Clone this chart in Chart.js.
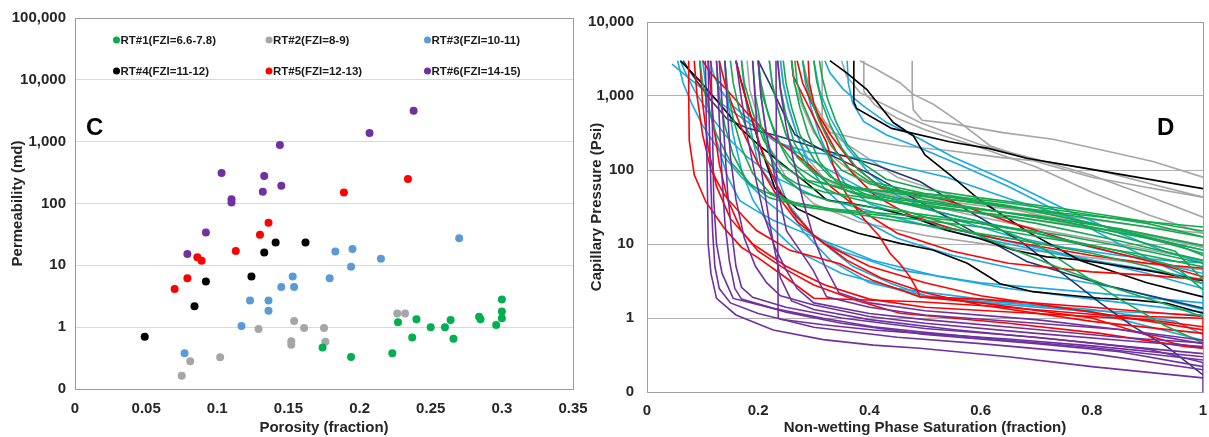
<!DOCTYPE html>
<html>
<head>
<meta charset="utf-8">
<script src="https://cdn.jsdelivr.net/npm/chart.js@4.4.1/dist/chart.umd.min.js"></script>
<style>
    html, body { margin: 0; padding: 0; background: #fff; }
    #wrap { position: relative; width: 1209px; height: 437px; overflow: hidden; }
    #permChart { position: absolute; left: 0; top: 0; }
    #pcChart { position: absolute; left: 578px; top: 0; }
</style>
</head>
<body>
<div id="wrap">
    <canvas id="permChart" width="600" height="437"></canvas>
    <canvas id="pcChart" width="631" height="437"></canvas>
</div>
<script>
// ---- Panel C: porosity vs permeability ----
const rtNames = ['RT#1(FZI=6.6-7.8)', 'RT#2(FZI=8-9)', 'RT#3(FZI=10-11)',
                 'RT#4(FZI=11-12)', 'RT#5(FZI=12-13)', 'RT#6(FZI=14-15)'];

const rt1Poro = [0.174, 0.194, 0.223, 0.227, 0.237, 0.240, 0.250, 0.260, 0.264, 0.266, 0.284, 0.285, 0.296, 0.300, 0.300, 0.300];
const rt1Perm = [0.47, 0.33, 0.38, 1.2, 0.68, 1.34, 1.0, 1.0, 1.3, 0.65, 1.48, 1.34, 1.08, 2.8, 1.8, 1.39];
const rt2Poro = [0.075, 0.081, 0.102, 0.129, 0.152, 0.152, 0.154, 0.161, 0.175, 0.176, 0.2265, 0.232];
const rt2Perm = [0.164, 0.28, 0.325, 0.93, 0.59, 0.52, 1.26, 0.97, 0.97, 0.58, 1.67, 1.67];
const rt3Poro = [0.077, 0.117, 0.123, 0.136, 0.136, 0.145, 0.154, 0.153, 0.179, 0.183, 0.194, 0.195, 0.215, 0.270];
const rt3Perm = [0.38, 1.04, 2.69, 2.69, 1.85, 4.47, 4.47, 6.6, 6.2, 16.8, 9.5, 18.4, 12.8, 27.3];
const rt4Poro = [0.049, 0.084, 0.092, 0.124, 0.133, 0.141, 0.162];
const rt4Perm = [0.70, 2.17, 5.5, 6.6, 16.2, 23.5, 23.5];
const rt5Poro = [0.070, 0.079, 0.086, 0.089, 0.113, 0.130, 0.136, 0.189, 0.234];
const rt5Perm = [4.14, 6.2, 13.5, 11.9, 17.1, 31.3, 49, 150, 249];
const rt6Poro = [0.079, 0.092, 0.103, 0.110, 0.110, 0.132, 0.133, 0.144, 0.145, 0.207, 0.238];
const rt6Perm = [15.3, 34, 311, 117, 104, 155, 279, 883, 194, 1380, 3170];

const porosityTicks = [0, 0.05, 0.1, 0.15, 0.2, 0.25, 0.3, 0.35];
const porosityTickLabels = ['0', '0.05', '0.1', '0.15', '0.2', '0.25', '0.3', '0.35'];
const permTicks = [0.1, 1, 10, 100, 1000, 10000, 100000];
const permTickLabels = ['0', '1', '10', '100', '1,000', '10,000', '100,000'];

// ---- Panel D: capillary pressure curves, [Sw, Pc] ----
const satTicks = [0, 0.2, 0.4, 0.6, 0.8, 1];
const satTickLabels = ['0', '0.2', '0.4', '0.6', '0.8', '1'];
const pcTicks = [0.1, 1, 10, 100, 1000, 10000];
const pcTickLabels = ['0', '1', '10', '100', '1,000', '10,000'];

const rt1Curves = [
    [[0.15,3000],[0.155,1500],[0.165,700],[0.18,350],[0.2,180],[0.23,100],[0.27,65],[0.32,50],[0.419,40],[0.55,30],[0.7,19],[0.85,11],[1,6]],
    [[0.17,3000],[0.175,1500],[0.19,600],[0.21,250],[0.24,120],[0.28,75],[0.35,58],[0.419,53],[0.539,45],[0.659,35],[0.779,26],[0.899,19],[1,12.5]],
    [[0.2,3000],[0.205,1200],[0.22,500],[0.24,220],[0.27,110],[0.31,70],[0.37,50],[0.45,40],[0.55,32],[0.7,24],[0.85,16],[1,9.5]],
    [[0.22,3000],[0.225,1500],[0.235,700],[0.25,300],[0.27,150],[0.3,90],[0.35,62],[0.45,48],[0.6,36],[0.75,26],[0.9,20],[1,17]],
    [[0.245,3000],[0.25,1500],[0.26,700],[0.275,300],[0.3,140],[0.33,80],[0.38,55],[0.45,42],[0.6,30],[0.75,20],[0.9,12],[1,7.5]],
    [[0.266,3000],[0.27,1500],[0.28,800],[0.3,350],[0.32,180],[0.35,100],[0.4,65],[0.5,45],[0.6,35],[0.75,25],[0.9,17],[1,12.4]],
    [[0.28,3000],[0.285,1800],[0.295,900],[0.31,450],[0.33,220],[0.36,110],[0.4,70],[0.5,48],[0.65,33],[0.8,19],[0.95,10],[1,7]],
    [[0.3,3000],[0.305,1600],[0.315,800],[0.33,400],[0.35,200],[0.38,100],[0.42,60],[0.5,40],[0.6,30],[0.75,20],[0.9,12],[1,8.3]],
    [[0.14,3000],[0.145,1200],[0.155,500],[0.17,200],[0.19,90],[0.22,50],[0.27,35],[0.35,28],[0.45,23],[0.6,17],[0.75,11],[0.9,7],[1,4.9]],
    [[0.125,3000],[0.13,1000],[0.14,400],[0.155,160],[0.18,70],[0.22,42],[0.28,32],[0.38,25],[0.5,18],[0.65,12],[0.8,7.5],[0.9,5],[1,2.9]],
    [[0.19,3000],[0.195,1000],[0.205,400],[0.22,160],[0.245,80],[0.28,50],[0.33,38],[0.42,30],[0.55,22],[0.7,14],[0.85,8],[0.95,5],[1,2.4]],
    [[0.26,3000],[0.265,1500],[0.275,700],[0.29,300],[0.31,130],[0.34,70],[0.4,45],[0.5,30],[0.6,20],[0.7,10],[0.78,4],[0.85,1.8],[0.93,0.8],[1,0.46]],
    [[0.31,3000],[0.315,1800],[0.325,900],[0.34,450],[0.36,220],[0.39,120],[0.43,75],[0.5,55],[0.6,42],[0.75,30],[0.9,20],[1,15]],
    [[0.095,3000],[0.1,1500],[0.11,700],[0.125,300],[0.15,130],[0.19,60],[0.25,38],[0.33,30],[0.45,25],[0.6,19],[0.75,13],[0.9,8],[1,5.5]],
    [[0.235,3000],[0.24,1300],[0.25,550],[0.265,230],[0.29,110],[0.33,62],[0.4,42],[0.5,32],[0.65,24],[0.8,16],[0.95,8],[1,3.3]],
    [[0.2,3000],[0.205,1500],[0.215,700],[0.23,300],[0.255,130],[0.29,70],[0.35,45],[0.45,30],[0.55,18],[0.65,9],[0.75,4.5],[0.85,2.4],[0.95,1.4],[1,1.04]]
];

const rt2Curves = [
    [[0.477,3000],[0.477,1000],[0.479,650],[0.495,470],[0.55,420],[0.64,320],[0.73,260],[0.82,185],[0.91,130],[1,80]],
    [[0.383,3000],[0.413,2280],[0.455,1510],[0.479,1050],[0.515,773],[0.563,438],[0.617,213],[0.7,130],[0.8,80],[0.9,58],[1,43]],
    [[0.35,3000],[0.359,1860],[0.383,1110],[0.443,668],[0.491,438],[0.55,300],[0.6,220],[0.7,140],[0.8,85],[0.9,45],[1,23]],
    [[0.315,3000],[0.315,490],[0.33,320],[0.383,262],[0.455,213],[0.545,182],[0.635,148],[0.725,127],[0.815,98],[0.905,65],[1,43]],
    [[0.39,3000],[0.39,1150],[0.41,750],[0.45,500],[0.5,350],[0.6,200],[0.7,110],[0.8,50],[0.9,25],[1,14]],
    [[0.28,3000],[0.29,1500],[0.3,800],[0.32,450],[0.35,250],[0.4,140],[0.45,80],[0.55,45],[0.7,25],[0.85,16],[1,9.6]],
    [[0.22,3000],[0.225,1500],[0.235,700],[0.25,300],[0.27,150],[0.3,90],[0.35,60],[0.45,45],[0.6,33],[0.75,24],[0.9,17],[1,14]],
    [[0.26,3000],[0.265,1500],[0.28,700],[0.3,320],[0.33,160],[0.38,80],[0.45,45],[0.55,28],[0.7,16],[0.85,10],[1,6]],
    [[0.18,3000],[0.185,1200],[0.2,500],[0.22,200],[0.25,80],[0.3,35],[0.38,20],[0.5,13],[0.65,9],[0.8,6.5],[1,4.5]],
    [[0.24,3000],[0.245,1400],[0.255,650],[0.27,300],[0.29,140],[0.32,75],[0.37,48],[0.45,36],[0.6,26],[0.75,19],[0.9,13],[1,9]]
];

const rt3Curves = [
    [[0.045,2700],[0.071,1860],[0.101,1230],[0.131,813],[0.18,450],[0.233,236],[0.293,173],[0.353,156],[0.419,130],[0.539,80],[0.659,39],[0.779,21],[0.899,12.4],[1,8.3]],
    [[0.32,3000],[0.329,2060],[0.353,1230],[0.389,733],[0.431,438],[0.491,262],[0.55,150],[0.65,70],[0.75,30],[0.85,14],[0.93,8],[1,5.6]],
    [[0.36,3000],[0.362,1500],[0.37,800],[0.39,450],[0.43,300],[0.49,200],[0.56,120],[0.65,60],[0.75,25],[0.85,10],[0.93,5],[1,2.9]],
    [[0.113,3000],[0.119,2050],[0.131,1230],[0.155,730],[0.191,435],[0.239,234],[0.3,130],[0.35,80],[0.4,50],[0.5,30],[0.6,20],[0.7,14],[0.8,9],[0.9,6],[1,4]],
    [[0.24,3000],[0.245,1500],[0.255,700],[0.27,300],[0.29,120],[0.32,55],[0.37,25],[0.45,12],[0.55,7],[0.7,4],[0.85,2.5],[1,1.3]],
    [[0.17,3000],[0.175,1200],[0.185,400],[0.2,120],[0.23,57],[0.3,13],[0.37,5],[0.44,2.9],[0.51,1.9],[0.61,1.6],[0.75,1.3],[1,1.1]],
    [[0.2,3000],[0.205,1000],[0.215,300],[0.23,100],[0.25,40],[0.28,15],[0.33,6],[0.4,3],[0.5,2],[0.6,1.7],[0.8,1.3],[0.95,0.9],[1,0.6]],
    [[0.1,3000],[0.11,800],[0.125,250],[0.145,80],[0.167,38.5],[0.197,28],[0.227,21],[0.287,13.7],[0.347,9.1],[0.407,6],[0.527,3.6],[0.65,2.5],[0.8,1.8],[1,1.2]],
    [[0.055,3000],[0.065,1500],[0.08,800],[0.1,400],[0.13,180],[0.17,80],[0.22,35],[0.28,16],[0.35,8],[0.45,4.5],[0.6,3],[0.8,2.2],[1,1.6]],
    [[0.28,3000],[0.285,1500],[0.295,700],[0.31,300],[0.33,130],[0.36,60],[0.4,35],[0.5,20],[0.6,13],[0.7,9],[0.8,6],[0.9,4],[1,2.5]],
    [[0.3,3000],[0.31,1200],[0.33,500],[0.36,200],[0.4,90],[0.45,45],[0.55,22],[0.65,13],[0.75,9],[0.85,7],[0.95,5.8],[1,5.6],[1,1.3]],
    [[0.14,3000],[0.145,900],[0.155,300],[0.17,100],[0.19,40],[0.22,18],[0.27,8],[0.35,4],[0.45,2.5],[0.6,1.8],[0.8,1.2],[1,0.5]],
    [[0.06,3000],[0.07,2000],[0.085,1200],[0.11,600],[0.14,300],[0.18,150],[0.23,80],[0.3,45],[0.4,28],[0.5,18],[0.6,12],[0.75,7],[0.9,4.5],[1,3.3]]
];

const rt4Curves = [
    [[0.372,3000],[0.372,834],[0.377,680],[0.44,365],[0.544,241],[0.614,196],[0.683,144],[0.823,95],[1,56]],
    [[0.329,3000],[0.359,2060],[0.395,1230],[0.419,733],[0.443,438],[0.479,290],[0.5,160],[0.55,80],[0.599,39],[0.689,14],[0.779,6],[0.899,3],[1,1.93]],
    [[0.06,3000],[0.095,1600],[0.137,690],[0.167,370],[0.2,220],[0.257,100],[0.288,66],[0.324,39],[0.37,35],[0.419,30],[0.479,23],[0.539,15.3],[0.599,11.8],[0.659,8.3],[0.719,6.7],[0.779,6.1],[0.839,5.2],[0.899,4.4],[1,3.2]],
    [[0.16,3000],[0.17,1500],[0.185,600],[0.2,250],[0.215,120],[0.23,57],[0.27,30],[0.32,20],[0.38,14],[0.455,10.2],[0.514,8.3],[0.576,5.5],[0.635,2.9],[0.694,2.27],[0.755,2.05],[0.815,1.85],[0.874,1.76],[0.935,1.58],[1,1.16]]
];

const darkBlueCurves = [
    [[0.065,3000],[0.083,1860],[0.113,910],[0.144,490],[0.18,370],[0.234,290],[0.293,213],[0.353,156],[0.414,115],[0.491,70],[0.568,31],[0.671,11],[0.755,3.6],[0.815,1.6],[0.874,0.77],[0.935,0.41],[1,0.17]],
    [[0.2,3000],[0.22,1500],[0.245,600],[0.266,300],[0.33,160],[0.405,86],[0.544,22],[0.683,5.8],[0.823,2.8],[1,1.36]]
];

const rt5Curves = [
    [[0.075,3000],[0.075,1000],[0.076,250],[0.085,86],[0.106,37],[0.14,16],[0.17,9],[0.2,6.5],[0.25,3.5],[0.3,1.85],[0.49,1.66],[0.635,1.42],[0.815,1.1],[1,0.99]],
    [[0.1,3000],[0.115,2000],[0.143,1230],[0.179,600],[0.221,290],[0.263,173],[0.293,115],[0.33,60],[0.38,30],[0.45,14],[0.55,8],[0.65,5.5],[0.8,4.2],[0.9,3.8],[1,3.3]],
    [[0.26,3000],[0.263,1860],[0.281,1000],[0.305,438],[0.323,236],[0.335,115],[0.35,60],[0.37,35],[0.39,22],[0.419,12.4],[0.437,7.5],[0.455,5.4],[0.473,3.6],[0.486,2.4],[0.491,1.93],[0.6,1.8],[0.8,1.4],[1,1.05],[1,0.38]],
    [[0.13,3000],[0.14,1500],[0.155,700],[0.175,300],[0.2,120],[0.23,50],[0.27,20],[0.32,10],[0.4,5],[0.5,3],[0.6,2],[0.8,1.2],[1,0.69]],
    [[0.16,3000],[0.17,1500],[0.185,600],[0.205,200],[0.23,70],[0.26,28],[0.3,13],[0.36,6],[0.42,3.5],[0.5,2.2],[0.6,1.5],[0.8,0.9],[1,0.62]],
    [[0.085,3000],[0.09,1000],[0.1,300],[0.115,100],[0.14,45],[0.17,25],[0.197,15.2],[0.257,8.2],[0.347,5.4],[0.407,3.2],[0.491,1.93],[0.6,1.6],[0.8,1.0],[0.95,0.45],[1,0.39]],
    [[0.27,3000],[0.28,1500],[0.3,700],[0.33,300],[0.37,120],[0.419,58],[0.539,39],[0.659,19],[0.779,10],[0.899,6],[1,3.6]],
    [[0.11,3000],[0.115,1200],[0.12,400],[0.13,120],[0.145,40],[0.17,15],[0.2,8],[0.25,4.5],[0.3,2.8],[0.38,1.7],[0.455,1.16],[0.65,0.85],[0.815,0.62],[0.97,0.41],[1,0.39]],
    [[0.095,3000],[0.1,800],[0.11,200],[0.125,60],[0.15,22],[0.19,10],[0.25,5],[0.32,2.8],[0.4,1.8],[0.5,1.4],[0.7,1.15],[0.9,0.95],[1,0.76]],
    [[0.29,3000],[0.292,1500],[0.3,800],[0.315,400],[0.34,180],[0.37,90],[0.41,45],[0.47,25],[0.55,16],[0.65,11],[0.8,7],[0.9,5.5],[1,4.7]]
];

const rt6Curves = [
    [[0.105,3000],[0.107,300],[0.109,40],[0.11,10],[0.115,4],[0.125,1.84],[0.16,1.1],[0.227,0.69],[0.317,0.51],[0.407,0.43],[0.491,0.39],[0.65,0.3],[0.8,0.22],[1,0.155]],
    [[0.115,3000],[0.118,300],[0.12,40],[0.125,10],[0.135,4],[0.155,1.84],[0.227,1.35],[0.317,0.99],[0.407,0.76],[0.491,0.65],[0.65,0.5],[0.8,0.4],[1,0.27]],
    [[0.125,3000],[0.13,500],[0.135,80],[0.14,20],[0.148,6],[0.158,2.5],[0.17,1.8],[0.25,1.2],[0.35,0.85],[0.5,0.6],[0.7,0.45],[0.85,0.35],[1,0.22]],
    [[0.14,3000],[0.145,600],[0.15,150],[0.16,40],[0.175,12],[0.195,5],[0.215,3],[0.24,2],[0.3,1.5],[0.4,1.05],[0.5,0.85],[0.7,0.62],[0.85,0.5],[1,0.41]],
    [[0.232,3000],[0.233,100],[0.235,10],[0.236,1.0],[0.24,0.96],[0.317,0.81],[0.407,0.69],[0.491,0.62],[0.65,0.52],[0.8,0.42],[1,0.3]],
    [[0.16,3000],[0.17,900],[0.18,300],[0.195,80],[0.21,25],[0.23,9],[0.25,4.5],[0.27,2.5],[0.3,1.6],[0.4,1.15],[0.5,0.95],[0.7,0.7],[0.85,0.55],[1,0.46]],
    [[0.2,3000],[0.205,1000],[0.215,300],[0.23,80],[0.251,15],[0.275,8.2],[0.299,4.4],[0.323,1.93],[0.4,1.4],[0.5,1.1],[0.7,0.85],[0.85,0.7],[1,0.5]],
    [[0.19,3000],[0.195,800],[0.2,200],[0.21,60],[0.22,20],[0.23,8],[0.24,3.5],[0.26,1.7],[0.3,1.3],[0.4,0.95],[0.55,0.7],[0.75,0.5],[0.9,0.38],[1,0.25],[1,0.1]],
    [[0.11,3000],[0.112,400],[0.115,60],[0.118,15],[0.122,5],[0.13,2.5],[0.15,1.6],[0.2,1.15],[0.3,0.75],[0.45,0.55],[0.6,0.45],[0.8,0.33],[1,0.2]],
    [[0.235,3000],[0.24,1200],[0.25,400],[0.265,120],[0.28,40],[0.3,12],[0.32,5],[0.345,2.2],[0.4,1.6],[0.5,1.25],[0.7,0.95],[0.85,0.7],[1,0.45]],
    [[0.13,3000],[0.135,800],[0.14,200],[0.145,50],[0.152,15],[0.16,5],[0.17,2.6],[0.19,1.9],[0.25,1.4],[0.35,1.0],[0.5,0.72],[0.7,0.55],[0.85,0.42],[1,0.33]]
];

// ---- styling ----
const FONT = '"Liberation Sans", Arial, sans-serif';
const tickFont = { family: FONT, size: 15, weight: 'bold' };
const titleFont = { family: FONT, size: 15, weight: 'bold' };
const textColor = '#262626';

const scatterColors = ['#00b050', '#a6a6a6', '#5b9bd5', '#000000', '#ff0000', '#7030a0'];

const boxPlugin = {
    id: 'box',
    afterDatasetsDraw(chart, args, opts) {
        const { ctx, chartArea: a } = chart;
        ctx.save();
        ctx.strokeStyle = opts.color;
        ctx.lineWidth = 1;
        ctx.strokeRect(Math.round(a.left) + 0.5, Math.round(a.top) + 0.5,
                       Math.round(a.right - a.left), Math.round(a.bottom - a.top));
        ctx.restore();
    }
};

const letterPlugin = {
    id: 'letter',
    afterDraw(chart, args, opts) {
        const ctx = chart.ctx;
        ctx.save();
        ctx.font = 'bold 24px ' + FONT;
        ctx.fillStyle = '#000';
        ctx.textBaseline = 'middle';
        ctx.fillText(opts.text, opts.x, opts.y);
        ctx.restore();
    }
};

const slotLegend = {
    id: 'slotLegend',
    afterDraw(chart, args, opts) {
        const ctx = chart.ctx;
        ctx.save();
        ctx.font = 'bold 11.5px ' + FONT;
        ctx.textBaseline = 'middle';
        chart.data.datasets.forEach((ds, i) => {
            const [x, y] = opts.slots[i];
            ctx.fillStyle = ds.backgroundColor;
            ctx.beginPath();
            ctx.arc(x, y, 3.5, 0, Math.PI * 2);
            ctx.fill();
            ctx.fillStyle = '#1a1a1a';
            ctx.fillText(ds.label, x + 4, y + 0.5);
        });
        ctx.restore();
    }
};

function toXY(xs, ys) {
    return xs.map((x, i) => ({ x: x, y: ys[i] }));
}

// ---- Chart C ----
const poroSets = [rt1Poro, rt2Poro, rt3Poro, rt4Poro, rt5Poro, rt6Poro];
const permSets = [rt1Perm, rt2Perm, rt3Perm, rt4Perm, rt5Perm, rt6Perm];

new Chart(document.getElementById('permChart').getContext('2d'), {
    type: 'scatter',
    data: {
        datasets: rtNames.map((name, i) => ({
            label: name,
            data: toXY(poroSets[i], permSets[i]),
            backgroundColor: scatterColors[i],
            borderWidth: 0,
            pointRadius: 4,
            pointHoverRadius: 4
        }))
    },
    options: {
        responsive: false,
        animation: false,
        layout: { padding: { left: 0, right: 27, top: 18, bottom: 0 } },
        plugins: {
            legend: { display: false },
            tooltip: { enabled: false },
            box: { color: '#9a9a9a' },
            letter: { text: 'C', x: 86, y: 128 },
            slotLegend: { slots: [[116.5, 40], [269, 40], [427.5, 40], [116.5, 71], [269, 71], [427.5, 71]] }
        },
        scales: {
            x: {
                type: 'linear',
                min: 0,
                max: 0.35,
                afterBuildTicks: s => { s.ticks = porosityTicks.map(v => ({ value: v })); },
                afterFit: s => { s.height = 48; },
                ticks: {
                    autoSkip: false,
                    maxRotation: 0,
                    padding: 11,
                    font: tickFont,
                    color: textColor,
                    callback: (v, i) => porosityTickLabels[i]
                },
                grid: { display: false, drawTicks: false },
                border: { display: false },
                title: { display: true, text: 'Porosity (fraction)', font: titleFont, color: textColor, padding: 0 }
            },
            y: {
                type: 'logarithmic',
                min: 0.1,
                max: 100000,
                afterBuildTicks: s => { s.ticks = permTicks.map(v => ({ value: v })); },
                afterFit: s => { s.width = 75; },
                ticks: {
                    autoSkip: false,
                    padding: 9,
                    font: tickFont,
                    color: textColor,
                    callback: (v, i) => permTickLabels[i]
                },
                grid: { color: '#d9d9d9', drawTicks: false },
                border: { display: false },
                title: { display: true, text: 'Permeability (md)', font: titleFont, color: textColor, padding: { top: 9, bottom: 0 } }
            }
        }
    },
    plugins: [boxPlugin, letterPlugin, slotLegend]
});

// ---- Chart D ----
const curveGroups = [
    { curves: rt6Curves, color: '#7030a0' },
    { curves: rt1Curves, color: '#16a84e' },
    { curves: rt5Curves, color: '#ff0000' },
    { curves: rt4Curves, color: '#000000' },
    { curves: darkBlueCurves, color: '#1f3a6e' },
    { curves: rt3Curves, color: '#1aa9e1' },
    { curves: rt2Curves, color: '#a6a6a6' }
];

const pcDatasets = [];
curveGroups.forEach(g => {
    g.curves.forEach(c => {
        pcDatasets.push({
            data: c.map(p => ({ x: p[0], y: p[1] })),
            borderColor: g.color,
            borderWidth: 1.6,
            pointRadius: 0,
            showLine: true,
            fill: false,
            tension: 0
        });
    });
});

new Chart(document.getElementById('pcChart').getContext('2d'), {
    type: 'scatter',
    data: { datasets: pcDatasets },
    options: {
        responsive: false,
        animation: false,
        layout: { padding: { left: 0, right: 6, top: 20, bottom: 0 } },
        plugins: {
            legend: { display: false },
            tooltip: { enabled: false },
            box: { color: '#a0a0a0' },
            letter: { text: 'D', x: 579, y: 128 }
        },
        scales: {
            x: {
                type: 'linear',
                min: 0,
                max: 1,
                afterBuildTicks: s => { s.ticks = satTicks.map(v => ({ value: v })); },
                afterFit: s => { s.height = 45; },
                ticks: {
                    autoSkip: false,
                    maxRotation: 0,
                    padding: 0,
                    font: tickFont,
                    color: textColor,
                    callback: (v, i) => satTickLabels[i]
                },
                // tick marks hidden (grid off) but their length still pushes the labels down
                grid: { display: false, drawTicks: true, tickLength: 10 },
                border: { display: false },
                title: { display: true, text: 'Non-wetting Phase Saturation (fraction)', font: titleFont, color: textColor, padding: 0 }
            },
            y: {
                type: 'logarithmic',
                min: 0.1,
                max: 10000,
                afterBuildTicks: s => { s.ticks = pcTicks.map(v => ({ value: v })); },
                afterFit: s => { s.width = 69; },
                ticks: {
                    autoSkip: false,
                    padding: 13,
                    font: tickFont,
                    color: textColor,
                    callback: (v, i) => pcTickLabels[i]
                },
                grid: { color: '#b0b0b0', drawTicks: false },
                border: { display: false },
                title: { display: true, text: 'Capillary Pressure (Psi)', font: titleFont, color: textColor, padding: { top: 10, bottom: 0 } }
            }
        }
    },
    plugins: [boxPlugin, letterPlugin]
});
</script>
</body>
</html>
